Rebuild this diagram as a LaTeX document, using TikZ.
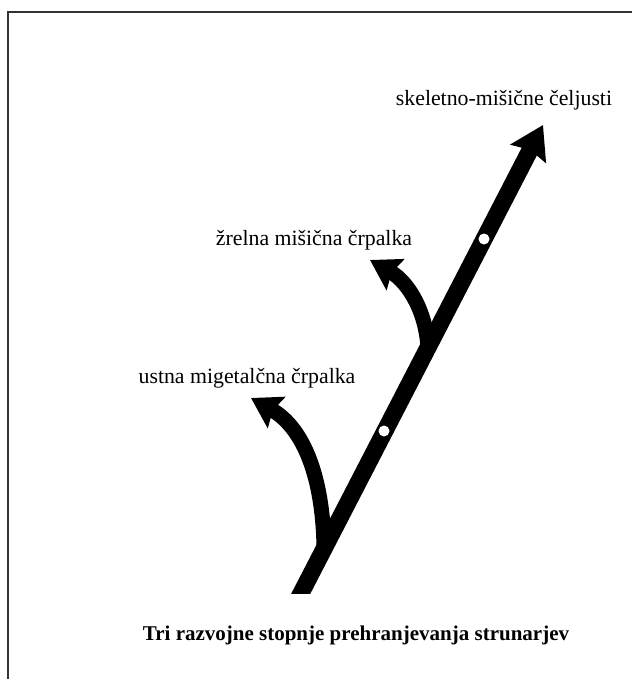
\documentclass[tikz,border=0pt]{standalone}
\usepackage{fontspec}
\setmainfont{Liberation Serif}
\usetikzlibrary{arrows.meta}

\begin{document}
\begin{tikzpicture}[
    x=0.5pt, y=-0.5pt,
    stem/.style={line width=8.5pt, -{Stealth[length=16pt, width=19.5pt, inset=2pt]}},
    branch/.style={line width=7.5pt, -{Stealth[length=14.5pt, width=17.5pt, inset=2pt]}},
    dot/.style={circle, fill=white, inner sep=0pt, minimum size=5.5pt},
    tag/.style={font=\fontsize{10.9}{13}\selectfont, anchor=base},
    frame/.style={line width=1pt, draw=black!80}
]
\useasboundingbox (0,0) rectangle (632,679);

% frame
\draw[frame] (632,12) -- (8,12) -- (8,679);

% trunk and branches
\coordinate (root) at (297,601);
\coordinate (jaws) at (543,125);
\coordinate (forkA) at (324,548);
\coordinate (cilia) at (251,398);
\coordinate (forkB) at (428,350);
\coordinate (pharynx) at (370,260);

\begin{scope}
  \clip (0,0) rectangle (632,593);
  \draw[stem] (root) -- (jaws);
\end{scope}
\draw[branch] (forkA) .. controls (323,478) and (304,428) .. (cilia);
\draw[branch] (forkB) .. controls (427,315) and (410,283) .. (pharynx);

\node[dot] (dotlow) at (384,431) {};
\node[dot] (dothigh) at (484,239) {};

% labels
\node[tag] (jawstext) at (504,106) {skeletno-mišične čeljusti};
\node[tag] (pharynxtext) at (314,245) {žrelna mišična črpalka};
\node[tag] (ciliatext) at (247,383) {ustna migetalčna črpalka};
\node[tag, font=\fontsize{10.5}{12}\selectfont\bfseries] (title) at (356,640)
  {Tri razvojne stopnje prehranjevanja strunarjev};

\end{tikzpicture}
\end{document}
